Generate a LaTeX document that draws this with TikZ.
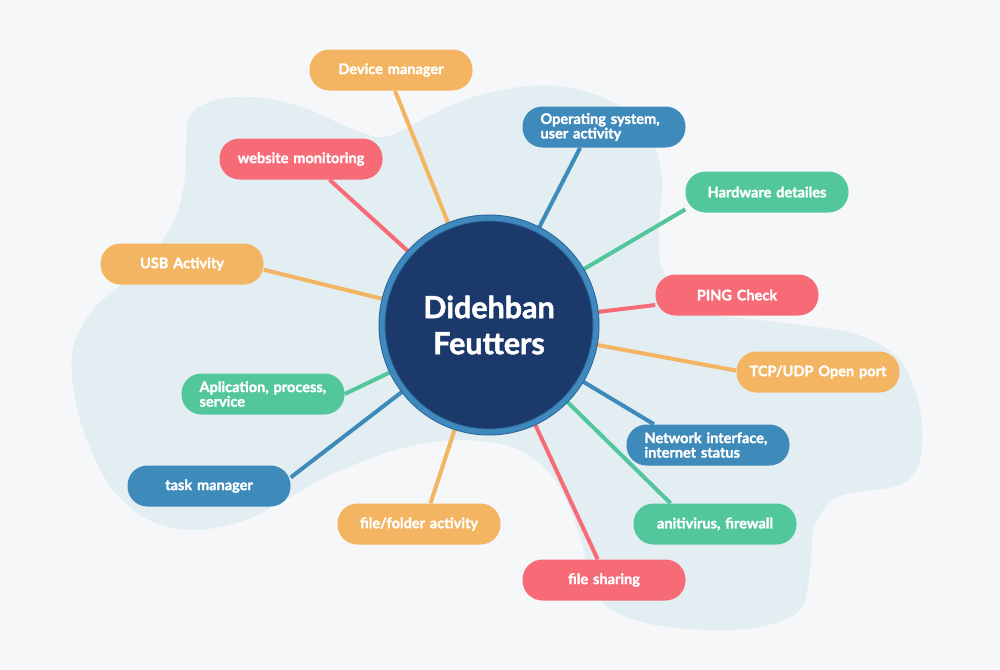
\documentclass[tikz,border=0pt]{standalone}
\usepackage{fontspec}
\setmainfont{Lato}[BoldFeatures={FakeBold=1.6}]
\definecolor{pagebg}{HTML}{F5F7F9}
\definecolor{blobbg}{HTML}{E3EEF3}
\definecolor{amber}{HTML}{F3B562}
\definecolor{coral}{HTML}{F76B76}
\definecolor{mint}{HTML}{52C79B}
\definecolor{steel}{HTML}{3E8ABA}
\definecolor{navy}{HTML}{1B3A6B}
\definecolor{ring}{HTML}{3F89BE}
\definecolor{ringdark}{HTML}{2B6699}
\pgfdeclarelayer{blob}
\pgfdeclarelayer{spokes}
\pgfsetlayers{blob,spokes,main}

\begin{document}
\begin{tikzpicture}[
    x=0.3mm, y=-0.3mm,
    pill/.style={rounded corners=6mm, text=white, inner xsep=3mm,
                 inner ysep=0pt, text width=42.9mm, minimum height=12.3mm,
                 font=\fontsize{12.4}{12.4}\selectfont\bfseries, align=center},
    twoline/.style={align=left, inner xsep=5.4mm, text width=38.1mm},
    spoke/.style={line width=1.2mm},
    hubtext/.style={text=white, font=\fontsize{26}{30.7}\selectfont\bfseries}
]

% One unit is one pixel of the 1000 x 670 sheet, y runs down.
\useasboundingbox (0,0) rectangle (1000,670);

% ---------- sheet and blob ----------
\begin{pgfonlayer}{blob}
\fill[pagebg] (0,0) rectangle (1000,670);
\fill[blobbg] plot[smooth cycle, tension=0.55] coordinates {
    (186,150) (190,115) (220,99) (265,98) (310,110) (350,128) (385,137)
    (425,118) (470,98) (520,87) (565,87) (615,103) (650,135) (662,180)
    (659,227) (663,270) (700,310) (785,323) (855,334) (900,360) (920,410)
    (920,460) (900,485) (840,496) (815,525) (810,570) (800,610) (760,627)
    (707,630) (650,624) (607,607) (590,575) (578,530) (555,480) (515,448)
    (455,440) (395,450) (330,475) (285,500) (240,522) (190,530) (145,518)
    (108,483) (80,420) (72,355) (93,310) (140,268) (172,225) (184,185)};
\end{pgfonlayer}

% ---------- hub ----------
\node[circle, fill=navy, draw=ringdark, double=ring, line width=0.3mm,
      double distance=1.5mm, minimum size=64.2mm, inner sep=0pt,
      hubtext, align=center] (hub) at (489,325) {Didehban\\Feutters};

% ---------- features ----------
\node[pill, fill=amber]          (dev)    at (391,70)  {Device manager};
\node[pill, fill=steel, twoline] (os)     at (604,127) {Operating system,\\user activity};
\node[pill, fill=coral]          (web)    at (301,159) {website monitoring};
\node[pill, fill=mint]           (hw)     at (767,192) {Hardware detailes};
\node[pill, fill=amber]          (usb)    at (182,264) {USB Activity};
\node[pill, fill=coral]          (ping)   at (737,295) {PING Check};
\node[pill, fill=amber]          (tcp)    at (818,372) {TCP/UDP Open port};
\node[pill, fill=mint, twoline]  (app)    at (263,394) {Aplication, process,\\service};
\node[pill, fill=steel, twoline] (net)    at (708,445) {Network interface,\\internet status};
\node[pill, fill=steel]          (task)   at (209,486) {task manager};
\node[pill, fill=amber]          (folder) at (419,524) {file/folder activity};
\node[pill, fill=mint]           (anti)   at (715,524) {anitivirus, firewall};
\node[pill, fill=coral]          (share)  at (604,580) {file sharing};

% ---------- spokes ----------
\begin{pgfonlayer}{spokes}
\foreach \n/\a/\c in {dev/281/amber, os/221/steel, web/324/coral,
    hw/192/mint, usb/356/amber, ping/187/coral, tcp/179/amber,
    net/159/steel, app/0/mint, task/6/steel, folder/61/amber,
    anti/155/mint, share/107/coral}
  \draw[spoke, \c] (\n.\a) -- (hub.center);
\end{pgfonlayer}

\end{tikzpicture}
\end{document}
